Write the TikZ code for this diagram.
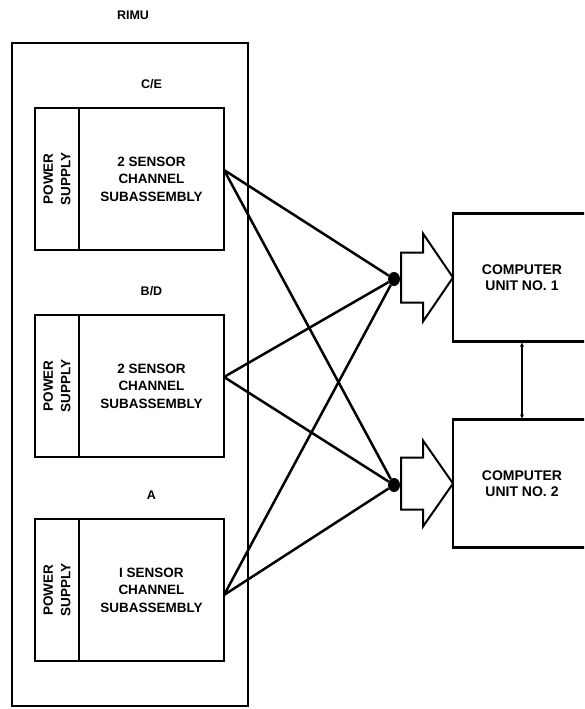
\documentclass[tikz,border=0pt]{standalone}
\usepackage{fontspec}
\setmainfont{Liberation Sans}
\usepackage{tikz}
\usetikzlibrary{arrows.meta,positioning,calc,shapes.geometric}

\begin{document}
\begin{tikzpicture}[
    x=1pt, y=-1pt,
    node distance=18pt,
    >=Latex,
    box/.style={
        draw,
        line width=2.2pt,
        outer sep=0pt,
        align=center,
        font=\fontsize{13.5}{17.5}\selectfont\bfseries
    },
    chbox/.style={box, minimum width=145pt, minimum height=142pt},
    psbox/.style={box, rotate=90, minimum width=142pt, minimum height=44pt},
    cubox/.style={box, minimum width=138pt, minimum height=128pt,
        font=\fontsize{14}{16}\selectfont\bfseries},
    lbl/.style={font=\fontsize{12.5}{14}\selectfont\bfseries, inner sep=1pt},
    dot/.style={ellipse, fill, inner sep=0pt, minimum width=12pt, minimum height=14pt},
    wire/.style={line width=2.5pt},
    fat/.style={line width=2pt, line join=miter}
]
\useasboundingbox (0,0) rectangle (584,709);
\clip (0,0) rectangle (584,709);

% RIMU enclosure
\node[draw, line width=1.6pt, minimum width=236pt, minimum height=663pt] (rimu) at (130,374.5) {};
\node[lbl] (rimulbl) at (133,15) {RIMU};

% sensor channels
\node[chbox] (chCE) at (151.5,179) {2 SENSOR\\CHANNEL\\SUBASSEMBLY};
\node[psbox] (psCE) at ($(chCE.west)+(-22,0)$) {POWER\\SUPPLY};
\node[lbl, above=of chCE] (lblCE) {C/E};

\node[chbox] (chBD) at (151.5,386) {2 SENSOR\\CHANNEL\\SUBASSEMBLY};
\node[psbox] (psBD) at ($(chBD.west)+(-22,0)$) {POWER\\SUPPLY};
\node[lbl, above=of chBD] (lblBD) {B/D};

\node[chbox] (chA) at (151.5,590) {I SENSOR\\CHANNEL\\SUBASSEMBLY};
\node[psbox] (psA) at ($(chA.west)+(-22,0)$) {POWER\\SUPPLY};
\node[lbl, above=of chA] (lblA) {A};

% computer units
\node[cubox] (cu1) at (522,277.5) {COMPUTER\\UNIT NO. 1};
\node[cubox] (cu2) at (522,483.5) {COMPUTER\\UNIT NO. 2};

% junctions
\node[dot] (j1) at (394,279) {};
\node[dot] (j2) at (394,485) {};

\coordinate (oCE) at ($(chCE.east)+(0,-9)$);
\coordinate (oBD) at ($(chBD.east)+(0,-9)$);
\coordinate (oA) at ($(chA.east)+(0,5)$);

\draw[wire] (oCE) -- (j1) (oCE) -- (j2);
\draw[wire] (oBD) -- (j1) (oBD) -- (j2);
\draw[wire] (oA) -- (j1) (oA) -- (j2);

% fat arrows into the computers
\draw[fat] (cu1.west) -- ++(-30,-44) -- ++(0,19) -- ++(-22,0) -- ++(0,50)
    -- ++(22,0) -- ++(0,19) -- cycle;
\draw[fat] (cu2.west) -- ++(-30,-43) -- ++(0,17) -- ++(-22,0) -- ++(0,52)
    -- ++(22,0) -- ++(0,17) -- cycle;

\draw[line width=1.6pt, {Latex[length=5pt,width=4pt]}-{Latex[length=5pt,width=4pt]}] (cu1.south) -- (cu2.north);

\end{tikzpicture}
\end{document}
